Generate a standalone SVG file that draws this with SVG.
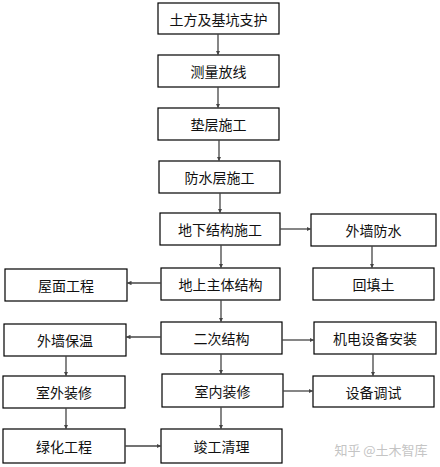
<svg xmlns="http://www.w3.org/2000/svg" width="440" height="467" viewBox="0 0 440 467">
<style>
.b{fill:#fff;stroke:#000;stroke-width:1.2}
.t{font-family:"Noto Sans CJK SC","Noto Sans",sans-serif;font-size:14px;fill:#111;text-anchor:middle;dominant-baseline:central}
.c{stroke:#444;stroke-width:1.3;fill:none;marker-end:url(#ah)}
.w{font-family:"Noto Sans CJK SC","Noto Sans",sans-serif;font-size:13px;fill:#c4c4c4;text-anchor:middle;dominant-baseline:central}
</style>
<defs>
<marker id="ah" viewBox="0 0 10 10" refX="10" refY="5" markerWidth="4.5" markerHeight="4.5" orient="auto" markerUnits="userSpaceOnUse"><path d="M0,0L10,5L0,10z" fill="#444"/></marker>
</defs>
<rect width="440" height="467" fill="#fff"/>
<g id="n1"><rect class="b" x="158" y="3" width="121" height="31"/><text class="t" x="218.5" y="18.5">土方及基坑支护</text></g>
<g id="n2"><rect class="b" x="158" y="55" width="121" height="32"/><text class="t" x="218.5" y="71">测量放线</text></g>
<g id="n3"><rect class="b" x="158" y="108" width="121" height="32"/><text class="t" x="218.5" y="124">垫层施工</text></g>
<g id="n4"><rect class="b" x="159" y="161" width="121" height="32"/><text class="t" x="219.5" y="177">防水层施工</text></g>
<g id="n5"><rect class="b" x="160" y="213" width="120" height="32"/><text class="t" x="220" y="229">地下结构施工</text></g>
<g id="n6"><rect class="b" x="311" y="214" width="125" height="32"/><text class="t" x="373.5" y="230">外墙防水</text></g>
<g id="n7"><rect class="b" x="161" y="268" width="119" height="32"/><text class="t" x="220.5" y="284">地上主体结构</text></g>
<g id="n8"><rect class="b" x="5" y="269" width="122" height="32"/><text class="t" x="66" y="285">屋面工程</text></g>
<g id="n9"><rect class="b" x="313" y="268" width="121" height="32"/><text class="t" x="373.5" y="284">回填土</text></g>
<g id="n10"><rect class="b" x="161" y="322" width="121" height="32"/><text class="t" x="221.5" y="338">二次结构</text></g>
<g id="n11"><rect class="b" x="4" y="324" width="122" height="32"/><text class="t" x="65" y="340">外墙保温</text></g>
<g id="n12"><rect class="b" x="314" y="322" width="122" height="32"/><text class="t" x="375" y="338">机电设备安装</text></g>
<g id="n13"><rect class="b" x="3" y="376" width="122" height="32"/><text class="t" x="64" y="392">室外装修</text></g>
<g id="n14"><rect class="b" x="162" y="374" width="121" height="33"/><text class="t" x="222.5" y="390.5">室内装修</text></g>
<g id="n15"><rect class="b" x="313" y="376" width="121" height="31"/><text class="t" x="373.5" y="391.5">设备调试</text></g>
<g id="n16"><rect class="b" x="3" y="429" width="122" height="34"/><text class="t" x="64" y="446">绿化工程</text></g>
<g id="n17"><rect class="b" x="161" y="429" width="121" height="34"/><text class="t" x="221.5" y="446">竣工清理</text></g>
<g id="connectors">
<path class="c" d="M218,34V55"/>
<path class="c" d="M218,87V108"/>
<path class="c" d="M219,140V161"/>
<path class="c" d="M220,193V213"/>
<path class="c" d="M280,229H311"/>
<path class="c" d="M372,246V268"/>
<path class="c" d="M221,245V268"/>
<path class="c" d="M161,283H127"/>
<path class="c" d="M221,300V322"/>
<path class="c" d="M161,337H126"/>
<path class="c" d="M282,340H314"/>
<path class="c" d="M66,356V376"/>
<path class="c" d="M373,354V376"/>
<path class="c" d="M221,354V374"/>
<path class="c" d="M283,391H313"/>
<path class="c" d="M66,408V429"/>
<path class="c" d="M221,407V429"/>
<path class="c" d="M125,446H161"/>
</g>
<text class="w" x="381" y="449">知乎 @土木智库</text>
</svg>
